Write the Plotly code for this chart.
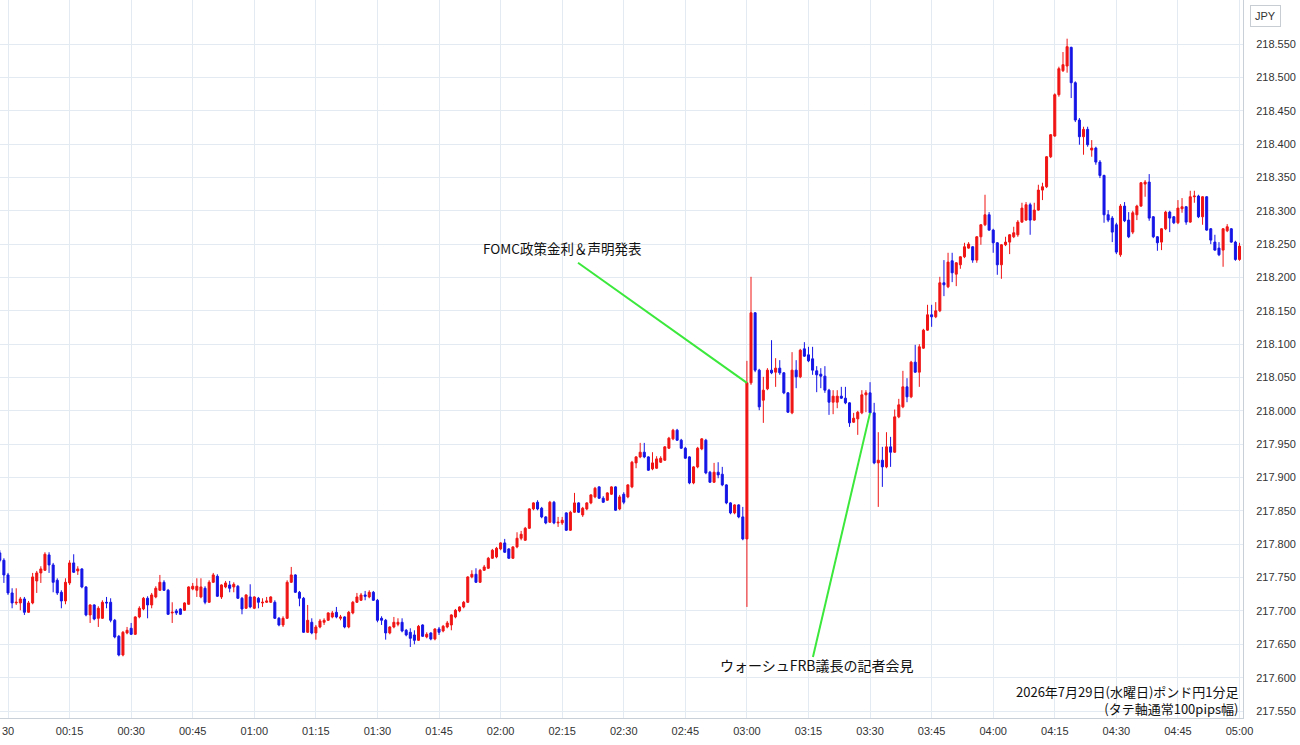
import pandas as pd
import plotly.graph_objects as go

# GBP/JPY 1-minute candles, 2026-07-29 23:58 .. 2026-07-30 05:00 (JST)
opens = [
    217.787, 217.776, 217.754, 217.727, 217.712, 217.712, 217.718, 217.698, 217.712, 217.745,
    217.757, 217.761, 217.784, 217.769, 217.746, 217.728, 217.715, 217.742, 217.772, 217.760,
    217.763, 217.736, 217.694, 217.709, 217.689, 217.689, 217.713, 217.713, 217.686, 217.662,
    217.634, 217.667, 217.674, 217.665, 217.691, 217.703, 217.719, 217.709, 217.721, 217.731,
    217.743, 217.731, 217.697, 217.700, 217.703, 217.701, 217.710, 217.733, 217.731, 217.721,
    217.734, 217.713, 217.743, 217.752, 217.721, 217.736, 217.739, 217.736, 217.737, 217.719,
    217.704, 217.721, 217.704, 217.719, 217.712, 217.713, 217.713, 217.713, 217.689, 217.679,
    217.689, 217.743, 217.754, 217.728, 217.719, 217.668, 217.683, 217.667, 217.676, 217.683,
    217.686, 217.691, 217.698, 217.689, 217.691, 217.676, 217.697, 217.713, 217.716, 217.724,
    217.721, 217.728, 217.716, 217.689, 217.686, 217.667, 217.676, 217.680, 217.683, 217.671,
    217.668, 217.664, 217.656, 217.679, 217.661, 217.667, 217.658, 217.673, 217.670, 217.676,
    217.679, 217.691, 217.700, 217.706, 217.713, 217.751, 217.755, 217.743, 217.761, 217.764,
    217.779, 217.781, 217.793, 217.802, 217.793, 217.779, 217.796, 217.809, 217.806, 217.824,
    217.853, 217.863, 217.854, 217.841, 217.833, 217.863, 217.832, 217.832, 217.847, 217.821,
    217.848, 217.862, 217.844, 217.853, 217.862, 217.871, 217.886, 217.869, 217.866, 217.875,
    217.886, 217.853, 217.875, 217.871, 217.886, 217.922, 217.931, 217.938, 217.931, 217.913,
    217.914, 217.923, 217.926, 217.944, 217.958, 217.971, 217.956, 217.944, 217.931, 217.892,
    217.916, 217.943, 217.956, 217.908, 217.893, 217.908, 217.905, 217.889, 217.862, 217.847,
    217.859, 217.841, 217.808, 218.042, 218.147, 218.061, 218.016, 218.033, 218.061, 218.058,
    218.064, 218.057, 218.027, 217.997, 218.061, 218.051, 218.093, 218.084, 218.078, 218.060,
    218.055, 218.052, 218.031, 218.013, 218.013, 218.022, 218.019, 218.012, 217.983, 217.988,
    217.997, 218.024, 218.027, 217.997, 217.922, 217.926, 217.916, 217.946, 217.938, 217.991,
    218.006, 218.036, 218.021, 218.073, 218.058, 218.094, 218.121, 218.144, 218.141, 218.150,
    218.192, 218.186, 218.225, 218.205, 218.219, 218.231, 218.244, 218.246, 218.226, 218.261,
    218.279, 218.294, 218.271, 218.252, 218.219, 218.249, 218.253, 218.261, 218.264, 218.283,
    218.286, 218.309, 218.286, 218.301, 218.331, 218.336, 218.381, 218.412, 218.474, 218.510,
    218.517, 218.545, 218.492, 218.436, 218.411, 218.422, 218.391, 218.394, 218.373, 218.353,
    218.294, 218.289, 218.279, 218.234, 218.307, 218.286, 218.268, 218.294, 218.307, 218.340,
    218.343, 218.291, 218.261, 218.253, 218.273, 218.298, 218.291, 218.282, 218.303, 218.306,
    218.283, 218.321, 218.322, 218.291, 218.321, 218.273, 218.253, 218.244, 218.241, 218.270,
    218.273, 218.253, 218.227,
]
highs = [
    217.791, 217.779, 217.757, 217.734, 217.734, 217.721, 217.721, 217.715, 217.757, 217.760,
    217.767, 217.788, 217.788, 217.772, 217.749, 217.731, 217.749, 217.776, 217.785, 217.767,
    217.764, 217.737, 217.710, 217.710, 217.707, 217.716, 217.721, 217.719, 217.688, 217.664,
    217.670, 217.676, 217.682, 217.692, 217.707, 217.721, 217.722, 217.727, 217.737, 217.754,
    217.746, 217.733, 217.713, 217.703, 217.704, 217.713, 217.737, 217.742, 217.749, 217.749,
    217.737, 217.746, 217.757, 217.755, 217.740, 217.745, 217.745, 217.743, 217.739, 217.721,
    217.725, 217.740, 217.722, 217.721, 217.719, 217.721, 217.722, 217.716, 217.691, 217.692,
    217.746, 217.766, 217.755, 217.730, 217.721, 217.709, 217.689, 217.679, 217.688, 217.689,
    217.698, 217.700, 217.706, 217.694, 217.692, 217.700, 217.715, 217.727, 217.727, 217.730,
    217.731, 217.730, 217.718, 217.692, 217.688, 217.677, 217.691, 217.689, 217.689, 217.673,
    217.674, 217.671, 217.679, 217.680, 217.668, 217.668, 217.674, 217.676, 217.679, 217.685,
    217.695, 217.703, 217.707, 217.715, 217.752, 217.761, 217.764, 217.763, 217.769, 217.781,
    217.793, 217.796, 217.803, 217.808, 217.794, 217.797, 217.818, 217.820, 217.826, 217.854,
    217.863, 217.866, 217.856, 217.842, 217.865, 217.865, 217.841, 217.841, 217.848, 217.850,
    217.877, 217.863, 217.856, 217.863, 217.875, 217.886, 217.887, 217.872, 217.878, 217.887,
    217.887, 217.874, 217.878, 217.890, 217.925, 217.932, 217.952, 217.952, 217.932, 217.938,
    217.932, 217.932, 217.947, 217.961, 217.973, 217.973, 217.958, 217.946, 217.932, 217.917,
    217.946, 217.959, 217.958, 217.910, 217.922, 217.923, 217.916, 217.890, 217.863, 217.860,
    217.860, 217.856, 218.075, 218.201, 218.148, 218.063, 218.051, 218.064, 218.106, 218.079,
    218.076, 218.058, 218.028, 218.088, 218.076, 218.093, 218.103, 218.096, 218.096, 218.067,
    218.064, 218.067, 218.033, 218.031, 218.031, 218.036, 218.036, 218.013, 217.997, 218.000,
    218.031, 218.031, 218.043, 218.012, 217.968, 217.946, 217.968, 217.961, 218.002, 218.018,
    218.060, 218.049, 218.075, 218.099, 218.100, 218.123, 218.159, 218.159, 218.163, 218.201,
    218.226, 218.237, 218.237, 218.223, 218.232, 218.252, 218.253, 218.247, 218.262, 218.280,
    218.324, 218.298, 218.273, 218.253, 218.250, 218.261, 218.265, 218.276, 218.286, 218.312,
    218.313, 218.312, 218.312, 218.339, 218.342, 218.382, 218.415, 218.476, 218.516, 218.538,
    218.558, 218.546, 218.494, 218.439, 218.426, 218.426, 218.406, 218.396, 218.376, 218.354,
    218.301, 218.292, 218.282, 218.310, 218.313, 218.298, 218.300, 218.309, 218.343, 218.346,
    218.355, 218.292, 218.262, 218.274, 218.300, 218.300, 218.292, 218.316, 218.319, 218.307,
    218.330, 218.330, 218.324, 218.322, 218.322, 218.274, 218.264, 218.253, 218.274, 218.280,
    218.274, 218.255, 218.252,
]
lows = [
    217.773, 217.742, 217.724, 217.704, 217.709, 217.701, 217.694, 217.697, 217.710, 217.727,
    217.742, 217.760, 217.757, 217.728, 217.724, 217.704, 217.710, 217.739, 217.757, 217.754,
    217.734, 217.692, 217.682, 217.686, 217.676, 217.688, 217.704, 217.683, 217.659, 217.632,
    217.632, 217.665, 217.664, 217.664, 217.689, 217.701, 217.689, 217.704, 217.719, 217.730,
    217.730, 217.694, 217.682, 217.694, 217.694, 217.700, 217.709, 217.731, 217.721, 217.719,
    217.710, 217.712, 217.742, 217.721, 217.718, 217.734, 217.728, 217.728, 217.718, 217.695,
    217.703, 217.704, 217.703, 217.704, 217.706, 217.712, 217.712, 217.688, 217.677, 217.676,
    217.688, 217.742, 217.727, 217.707, 217.667, 217.667, 217.665, 217.657, 217.674, 217.679,
    217.685, 217.689, 217.689, 217.686, 217.674, 217.674, 217.695, 217.712, 217.715, 217.716,
    217.719, 217.715, 217.683, 217.679, 217.657, 217.665, 217.674, 217.677, 217.668, 217.662,
    217.646, 217.650, 217.655, 217.661, 217.659, 217.656, 217.656, 217.664, 217.668, 217.674,
    217.671, 217.689, 217.698, 217.704, 217.712, 217.749, 217.742, 217.742, 217.760, 217.763,
    217.778, 217.779, 217.791, 217.787, 217.778, 217.778, 217.794, 217.806, 217.805, 217.823,
    217.851, 217.851, 217.839, 217.830, 217.832, 217.830, 217.826, 217.829, 217.820, 217.820,
    217.847, 217.847, 217.841, 217.851, 217.860, 217.869, 217.868, 217.862, 217.865, 217.874,
    217.850, 217.851, 217.860, 217.869, 217.884, 217.914, 217.929, 217.929, 217.910, 217.911,
    217.913, 217.922, 217.925, 217.943, 217.956, 217.955, 217.943, 217.928, 217.890, 217.890,
    217.914, 217.941, 217.905, 217.892, 217.892, 217.899, 217.887, 217.860, 217.845, 217.845,
    217.839, 217.806, 217.706, 218.039, 218.058, 218.001, 217.982, 218.031, 218.055, 218.036,
    218.054, 218.025, 217.997, 217.995, 218.034, 218.049, 218.081, 218.073, 218.054, 218.028,
    218.034, 218.027, 217.994, 217.995, 218.004, 218.018, 218.010, 217.976, 217.982, 217.964,
    217.995, 217.998, 217.995, 217.920, 217.856, 217.886, 217.914, 217.916, 217.937, 217.989,
    218.004, 218.013, 218.019, 218.057, 218.036, 218.093, 218.120, 218.126, 218.139, 218.148,
    218.172, 218.184, 218.193, 218.187, 218.213, 218.229, 218.243, 218.222, 218.222, 218.249,
    218.277, 218.270, 218.237, 218.204, 218.198, 218.247, 218.235, 218.259, 218.261, 218.282,
    218.285, 218.264, 218.285, 218.300, 218.316, 218.334, 218.379, 218.411, 218.471, 218.508,
    218.507, 218.469, 218.433, 218.399, 218.384, 218.396, 218.381, 218.369, 218.349, 218.282,
    218.283, 218.253, 218.235, 218.231, 218.283, 218.259, 218.265, 218.286, 218.306, 218.321,
    218.285, 218.259, 218.240, 218.241, 218.271, 218.268, 218.280, 218.280, 218.297, 218.279,
    218.282, 218.312, 218.289, 218.279, 218.270, 218.250, 218.240, 218.232, 218.216, 218.268,
    218.252, 218.225, 218.225,
]
closes = [
    217.776, 217.754, 217.727, 217.712, 217.713, 217.718, 217.698, 217.712, 217.751, 217.757,
    217.763, 217.785, 217.769, 217.743, 217.727, 217.715, 217.743, 217.772, 217.758, 217.763,
    217.736, 217.694, 217.709, 217.688, 217.704, 217.713, 217.712, 217.686, 217.661, 217.634,
    217.668, 217.671, 217.665, 217.691, 217.704, 217.719, 217.709, 217.724, 217.734, 217.743,
    217.731, 217.695, 217.698, 217.697, 217.695, 217.712, 217.736, 217.737, 217.737, 217.736,
    217.713, 217.743, 217.754, 217.722, 217.739, 217.742, 217.734, 217.740, 217.719, 217.703,
    217.724, 217.706, 217.721, 217.713, 217.713, 217.715, 217.721, 217.689, 217.679, 217.689,
    217.743, 217.754, 217.728, 217.719, 217.668, 217.686, 217.667, 217.676, 217.685, 217.686,
    217.697, 217.697, 217.691, 217.691, 217.676, 217.698, 217.713, 217.721, 217.724, 217.722,
    217.728, 217.716, 217.686, 217.686, 217.667, 217.676, 217.683, 217.683, 217.670, 217.664,
    217.659, 217.656, 217.677, 217.662, 217.665, 217.658, 217.673, 217.668, 217.677, 217.682,
    217.694, 217.701, 217.706, 217.713, 217.751, 217.755, 217.743, 217.761, 217.766, 217.779,
    217.791, 217.794, 217.802, 217.788, 217.779, 217.796, 217.809, 217.815, 217.824, 217.853,
    217.862, 217.853, 217.841, 217.832, 217.863, 217.832, 217.833, 217.836, 217.821, 217.848,
    217.862, 217.848, 217.854, 217.862, 217.874, 217.884, 217.869, 217.863, 217.877, 217.886,
    217.851, 217.871, 217.863, 217.889, 217.923, 217.931, 217.938, 217.931, 217.911, 217.922,
    217.928, 217.929, 217.946, 217.959, 217.971, 217.956, 217.944, 217.929, 217.892, 217.916,
    217.944, 217.958, 217.907, 217.893, 217.908, 217.904, 217.889, 217.862, 217.847, 217.859,
    217.841, 217.808, 218.042, 218.147, 218.061, 218.006, 218.031, 218.061, 218.057, 218.064,
    218.057, 218.027, 217.998, 218.061, 218.051, 218.091, 218.082, 218.075, 218.061, 218.054,
    218.052, 218.031, 218.013, 218.022, 218.022, 218.019, 218.012, 217.982, 217.989, 217.998,
    218.024, 218.027, 217.997, 217.922, 217.926, 217.916, 217.946, 217.938, 217.991, 218.009,
    218.036, 218.021, 218.073, 218.058, 218.096, 218.121, 218.144, 218.141, 218.150, 218.192,
    218.189, 218.223, 218.207, 218.222, 218.231, 218.246, 218.250, 218.226, 218.261, 218.279,
    218.294, 218.271, 218.252, 218.219, 218.249, 218.253, 218.264, 218.267, 218.283, 218.304,
    218.309, 218.286, 218.301, 218.331, 218.336, 218.381, 218.414, 218.474, 218.513, 218.519,
    218.546, 218.492, 218.436, 218.411, 218.422, 218.399, 218.394, 218.373, 218.353, 218.294,
    218.286, 218.268, 218.238, 218.307, 218.285, 218.261, 218.297, 218.307, 218.342, 218.343,
    218.289, 218.261, 218.252, 218.273, 218.298, 218.289, 218.282, 218.304, 218.306, 218.283,
    218.321, 218.322, 218.291, 218.321, 218.271, 218.256, 218.241, 218.234, 218.273, 218.276,
    218.253, 218.227, 218.247,
]
times = pd.date_range("2026-07-29 23:58", periods=len(closes), freq="min")

tick_times = pd.date_range("2026-07-30 00:00", "2026-07-30 05:00", freq="15min")
tick_labels = ["30", "00:15", "00:30", "00:45", "01:00", "01:15", "01:30", "01:45",
               "02:00", "02:15", "02:30", "02:45", "03:00", "03:15", "03:30", "03:45",
               "04:00", "04:15", "04:30", "04:45", "05:00"]
price_ticks = [217.55, 217.60, 217.65, 217.70, 217.75, 217.80, 217.85, 217.90, 217.95,
               218.00, 218.05, 218.10, 218.15, 218.20, 218.25, 218.30, 218.35, 218.40,
               218.45, 218.50, 218.55]

title_line1 = "2026年7月29日(水曜日)ポンド円1分足"
title_line2 = "(タテ軸通常100pips幅)"
event_fomc = "FOMC政策金利＆声明発表"
event_press = "ウォーシュFRB議長の記者会見"
i_fomc = 182   # 03:00 candle
i_press = 212  # 03:30 candle

UP = "#f01414"
DOWN = "#1414e6"
GREEN = "#3be83b"
GRID = "#e4eaf1"
CJK = "Noto Sans CJK JP"

fig = go.Figure()
fig.add_trace(go.Candlestick(
    x=times, open=opens, high=highs, low=lows, close=closes,
    increasing=dict(line=dict(color=UP, width=1), fillcolor=UP),
    decreasing=dict(line=dict(color=DOWN, width=1), fillcolor=DOWN),
    whiskerwidth=0, showlegend=False, hoverinfo="skip",
))

# annotation leader lines
fig.add_shape(type="line", xref="x", yref="y",
              x0="2026-07-30 02:18:51", y0=218.222,
              x1=times[i_fomc], y1=closes[i_fomc],
              line=dict(color=GREEN, width=2))
fig.add_shape(type="line", xref="x", yref="y",
              x0="2026-07-30 03:16:05", y0=217.631,
              x1=times[i_press], y1=closes[i_press],
              line=dict(color=GREEN, width=2))

fig.add_annotation(x="2026-07-30 02:14:58", y=218.244, xref="x", yref="y",
                   text=event_fomc, showarrow=False,
                   font=dict(family=CJK, size=13.5, color="#111111"))
fig.add_annotation(x="2026-07-30 03:17:04", y=217.619, xref="x", yref="y",
                   text=event_press, showarrow=False,
                   font=dict(family=CJK, size=14, color="#111111"))

fig.add_annotation(x=0.9976, y=0.0244, xref="paper", yref="paper",
                   xanchor="right", yanchor="middle", align="right",
                   text=title_line1 + "<br>" + title_line2,
                   showarrow=False, borderpad=0,
                   font=dict(family=CJK, size=13, color="#111111"))

fig.add_annotation(x=1.0185, y=0.9777, xref="paper", yref="paper",
                   xanchor="center", yanchor="middle", text="JPY", showarrow=False,
                   font=dict(family="Liberation Sans, Arial", size=11, color="#333333"),
                   bordercolor="#c8cdd3", borderwidth=1, borderpad=4, bgcolor="white")

fig.update_layout(
    width=1300, height=745,
    margin=dict(l=0, r=57, t=0, b=27),
    paper_bgcolor="white", plot_bgcolor="white",
    boxgap=0.3, boxgroupgap=0.3,
    xaxis=dict(
        type="date",
        range=["2026-07-29 23:58:03", "2026-07-30 05:00:51"],
        rangeslider=dict(visible=False),
        tickvals=tick_times, ticktext=tick_labels,
        showgrid=True, gridcolor=GRID, gridwidth=1,
        showline=True, linecolor="#c9d0d8", linewidth=1,
        ticks="", zeroline=False, ticklabelstandoff=3,
        tickfont=dict(family="Liberation Sans, Arial", size=11, color="#333333"),
    ),
    yaxis=dict(
        side="right",
        range=[217.5395, 218.616],
        tickvals=price_ticks, tickformat=".3f",
        showgrid=True, gridcolor=GRID, gridwidth=1,
        showline=True, linecolor="#c9d0d8", linewidth=1,
        ticks="", zeroline=False, ticklabelstandoff=10,
        tickfont=dict(family="Liberation Sans, Arial", size=11, color="#333333"),
    ),
)

fig.write_html("out.html")
